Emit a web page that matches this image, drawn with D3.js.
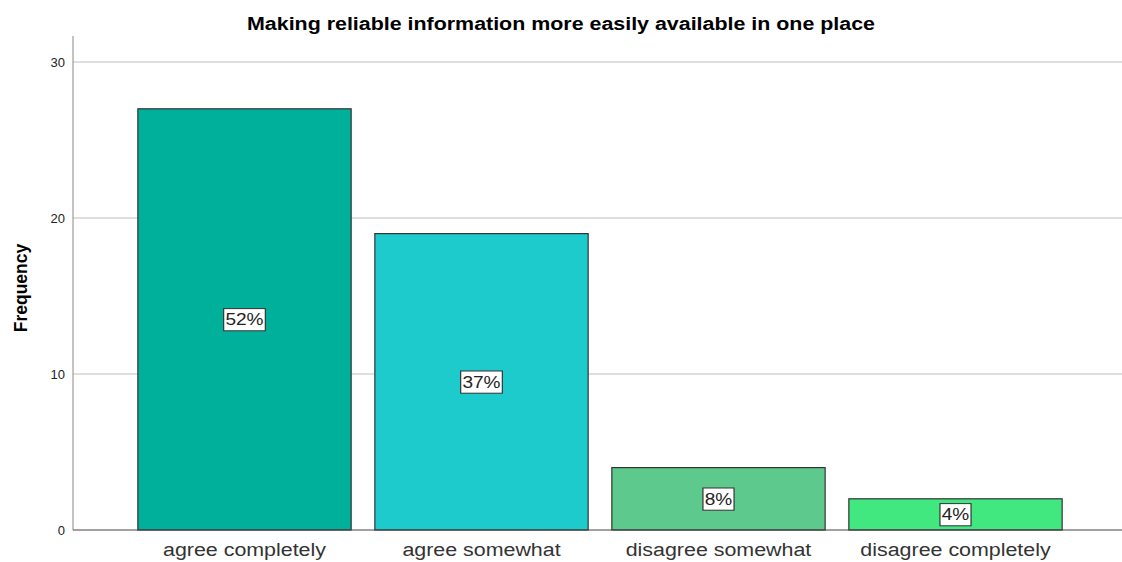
<!DOCTYPE html>
<html>
<head>
<meta charset="utf-8">
<script src="https://cdn.jsdelivr.net/npm/d3@7"></script>
<style>
  body { margin: 0; background: #fff; }
  text { font-family: "Liberation Sans", Arial, sans-serif; }
</style>
</head>
<body>
<div id="chart"></div>
<script>
// chart data
const categories = ["agree completely", "agree somewhat", "disagree somewhat", "disagree completely"];
const frequencies = [27, 19, 4, 2];
const percentLabels = ["52%", "37%", "8%", "4%"];
const barColors = ["#00b09b", "#1ecbcc", "#5dc98c", "#40e87f"];
const yTicks = [0, 10, 20, 30];

const svgWidth = 1122;
const svgHeight = 562;
// the original text looks a bit stretched sideways
const stretch = 1.19;

const svg = d3.select("#chart")
  .append("svg")
  .attr("width", svgWidth)
  .attr("height", svgHeight);

const axisX = 73;
const x = d3.scaleBand()
  .domain(categories)
  .range([126, 1074])
  .paddingInner(0.1)
  .paddingOuter(0.05);

const y = d3.scaleLinear()
  .domain([0, 30])
  .range([530, 62]);

// title
svg.append("g")
  .attr("transform", `translate(561,30) scale(${stretch},1)`)
  .append("text")
  .attr("text-anchor", "middle")
  .style("font-size", "18px")
  .style("font-weight", "bold")
  .attr("fill", "#000")
  .text("Making reliable information more easily available in one place");

// gridlines
svg.append("g")
  .selectAll("line")
  .data(yTicks.filter(d => d > 0))
  .enter()
  .append("line")
  .attr("x1", axisX)
  .attr("x2", svgWidth)
  .attr("y1", d => y(d))
  .attr("y2", d => y(d))
  .attr("stroke", "#d4d4d4")
  .attr("stroke-width", 1.5);

// y axis
const leftAxis = d3.axisLeft(y).tickValues(yTicks).tickSize(0).tickPadding(8);
const yAxis = svg.append("g")
  .attr("transform", `translate(${axisX},0)`)
  .call(leftAxis);
yAxis.select(".domain").remove();
yAxis.selectAll("text")
  .style("font-size", "13px")
  .style("font-family", "Liberation Sans, Arial, sans-serif")
  .attr("fill", "#222");

svg.append("line")
  .attr("x1", axisX).attr("x2", axisX)
  .attr("y1", 36).attr("y2", y(0))
  .attr("stroke", "#888")
  .attr("stroke-width", 1);

// bars
svg.append("g")
  .selectAll("rect")
  .data(categories)
  .enter()
  .append("rect")
  .attr("x", d => x(d))
  .attr("y", (d, i) => y(frequencies[i]))
  .attr("width", x.bandwidth())
  .attr("height", (d, i) => y(0) - y(frequencies[i]))
  .attr("fill", (d, i) => barColors[i])
  .attr("stroke", "#333")
  .attr("stroke-width", 1.2);

// x axis baseline
svg.append("line")
  .attr("x1", axisX).attr("x2", svgWidth)
  .attr("y1", y(0)).attr("y2", y(0))
  .attr("stroke", "#444")
  .attr("stroke-width", 1);

// category labels
const bottomAxis = d3.axisBottom(x).tickSize(0).tickPadding(13);
const xAxis = svg.append("g")
  .attr("transform", `translate(0,${y(0)})`)
  .call(bottomAxis);
xAxis.select(".domain").remove();
xAxis.selectAll("text")
  .attr("transform", `scale(${stretch},1)`)
  .style("font-size", "18px")
  .style("font-family", "Liberation Sans, Arial, sans-serif")
  .attr("fill", "#333");

// y axis title
svg.append("text")
  .attr("transform", "rotate(-90)")
  .attr("x", -288)
  .attr("y", 27)
  .attr("text-anchor", "middle")
  .style("font-size", "17.5px")
  .style("font-weight", "bold")
  .attr("fill", "#000")
  .text("Frequency");

// percent labels
const labels = svg.append("g")
  .selectAll("g")
  .data(categories)
  .enter()
  .append("g")
  .attr("transform", (d, i) => `translate(${x(d) + x.bandwidth() / 2},${(y(frequencies[i]) + y(0)) / 2}) scale(${stretch},1)`);

labels.append("text")
  .attr("text-anchor", "middle")
  .attr("dy", "0.36em")
  .style("font-size", "16px")
  .attr("fill", "#222")
  .text((d, i) => percentLabels[i])
  .each(function() {
    const bb = this.getBBox();
    d3.select(this.parentNode).insert("rect", "text")
      .attr("x", bb.x - 1.5)
      .attr("y", bb.y - 2)
      .attr("width", bb.width + 3)
      .attr("height", bb.height + 4)
      .attr("fill", "#fff")
      .attr("stroke", "#333")
      .attr("stroke-width", 1);
  });
</script>
</body>
</html>
